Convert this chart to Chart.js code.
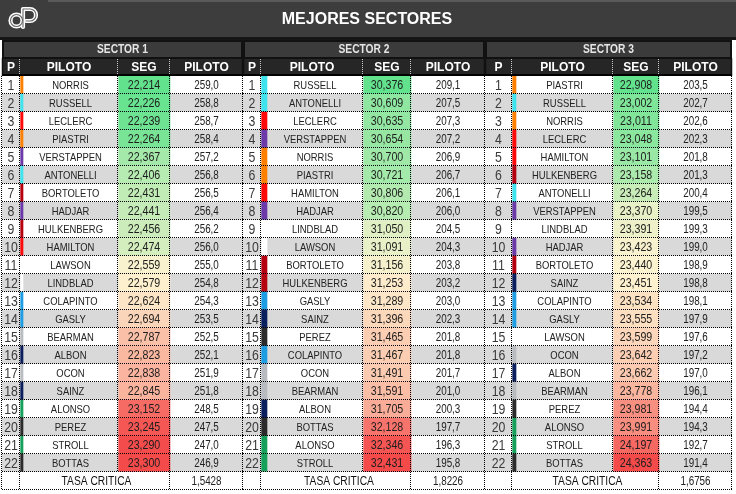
<!DOCTYPE html>
<html>
<head>
<meta charset="utf-8">
<script src="https://cdn.jsdelivr.net/npm/chart.js@4.4.1/dist/chart.umd.min.js"></script>
<style>
html,body{margin:0;padding:0;background:#ffffff;}
#wrap{width:736px;height:494px;overflow:hidden;}
canvas{display:block;}
</style>
</head>
<body>
<div id="wrap"><canvas id="c" width="736" height="494"></canvas></div>
<script>
// ---------- DATA ----------
const chartTitle = 'MEJORES SECTORES';
const sectorTitles = ['SECTOR 1', 'SECTOR 2', 'SECTOR 3'];
const columnHeaders = ['P', 'PILOTO', 'SEG', 'PILOTO'];
const criticalLabel = 'TASA CRITICA';
const positions = [1,2,3,4,5,6,7,8,9,10,11,12,13,14,15,16,17,18,19,20,21,22];

const s1Drivers = ['NORRIS','RUSSELL','LECLERC','PIASTRI','VERSTAPPEN','ANTONELLI','BORTOLETO','HADJAR','HULKENBERG','HAMILTON','LAWSON','LINDBLAD','COLAPINTO','GASLY','BEARMAN','ALBON','OCON','SAINZ','ALONSO','PEREZ','STROLL','BOTTAS'];
const s1Times = [22.214,22.226,22.239,22.264,22.367,22.406,22.431,22.441,22.456,22.474,22.559,22.579,22.624,22.694,22.787,22.823,22.838,22.845,23.152,23.245,23.290,23.300];
const s1Speeds = [259.0,258.8,258.7,258.4,257.2,256.8,256.5,256.4,256.2,256.0,255.0,254.8,254.3,253.5,252.5,252.1,251.9,251.8,248.5,247.5,247.0,246.9];

const s2Drivers = ['RUSSELL','ANTONELLI','LECLERC','VERSTAPPEN','NORRIS','PIASTRI','HAMILTON','HADJAR','LINDBLAD','LAWSON','BORTOLETO','HULKENBERG','GASLY','SAINZ','PEREZ','COLAPINTO','OCON','BEARMAN','ALBON','BOTTAS','ALONSO','STROLL'];
const s2Times = [30.376,30.609,30.635,30.654,30.700,30.721,30.806,30.820,31.050,31.091,31.156,31.253,31.289,31.396,31.465,31.467,31.491,31.591,31.705,32.128,32.346,32.431];
const s2Speeds = [209.1,207.5,207.3,207.2,206.9,206.7,206.1,206.0,204.5,204.3,203.8,203.2,203.0,202.3,201.8,201.8,201.7,201.0,200.3,197.7,196.3,195.8];

const s3Drivers = ['PIASTRI','RUSSELL','NORRIS','LECLERC','HAMILTON','HULKENBERG','ANTONELLI','VERSTAPPEN','LINDBLAD','HADJAR','BORTOLETO','SAINZ','COLAPINTO','GASLY','LAWSON','OCON','ALBON','BEARMAN','PEREZ','ALONSO','STROLL','BOTTAS'];
const s3Times = [22.908,23.002,23.011,23.048,23.101,23.158,23.264,23.370,23.391,23.423,23.440,23.451,23.534,23.555,23.599,23.642,23.662,23.778,23.981,23.991,24.197,24.363];
const s3Speeds = [203.5,202.7,202.6,202.3,201.8,201.3,200.4,199.5,199.3,199.0,198.9,198.8,198.1,197.9,197.6,197.2,197.0,196.1,194.4,194.3,192.7,191.4];

const criticalRates = [1.5428, 1.8226, 1.6756];

// ---------- STYLE / LAYOUT ----------
const teamColors = {
  NORRIS:'#ff8000', PIASTRI:'#ff8000',
  RUSSELL:'#3fe3ee', ANTONELLI:'#3fe3ee',
  LECLERC:'#ff0a0a', HAMILTON:'#ff0a0a',
  VERSTAPPEN:'#6b3aa8', HADJAR:'#6b3aa8',
  LAWSON:'#ffffff', LINDBLAD:'#ffffff',
  HULKENBERG:'#b5000f', BORTOLETO:'#b5000f',
  GASLY:'#1f9de2', COLAPINTO:'#1f9de2',
  SAINZ:'#0b1f5e', ALBON:'#0b1f5e',
  OCON:'#b8bcc0', BEARMAN:'#b8bcc0',
  ALONSO:'#16a05a', STROLL:'#16a05a',
  PEREZ:'#2b2b2b', BOTTAS:'#2b2b2b'
};
const colWidths = [[18,3,95,52,73],[18,6,96,48,74],[27,4,97,46,73]];
const SEG_MIN = [99,226,141], SEG_MID = [253,242,208], SEG_MAX = [244,74,74];

const drivers = [s1Drivers, s2Drivers, s3Drivers];
const times = [s1Times, s2Times, s3Times];
const speeds = [s1Speeds, s2Speeds, s3Speeds];

const rowLabels = ['sector','header'].concat(positions.map(String)).concat(['tasa']);
const NROW = rowLabels.length;
const totalW = colWidths.reduce((a, s) => a + s.reduce((x, y) => x + y, 0), 0);

// font detection
const mc = document.createElement('canvas').getContext('2d');
mc.font = '20px "Liberation Sans Narrow", monospace';
const wn = mc.measureText('NORRIS MWmi 22,214').width;
mc.font = '20px monospace';
const wm = mc.measureText('NORRIS MWmi 22,214').width;
const HAS_NARROW = Math.abs(wn - wm) > 0.5;

function fmt(v, d) { return v.toFixed(d).replace('.', ','); }

function median(arr) {
  const s = arr.slice().sort((a, b) => a - b);
  const n = s.length;
  return n % 2 ? s[(n - 1) / 2] : (s[n / 2 - 1] + s[n / 2]) / 2;
}
function mix(a, b, t) {
  return 'rgb(' + a.map((v, i) => Math.round(v + (b[i] - v) * t)).join(',') + ')';
}
function segColor(s, v) {
  const arr = times[s];
  const mn = Math.min(...arr), mx = Math.max(...arr), md = median(arr);
  if (v <= md) return mix(SEG_MID, SEG_MIN, (md - v) / (md - mn));
  return mix(SEG_MID, SEG_MAX, (v - md) / (mx - md));
}
function cellColor(s, c, r) {
  if (r === 0) return '#3b3b3b';
  if (r === 1) return '#262626';
  if (r === NROW - 1) return '#ffffff';
  const i = r - 2;
  if (c === 1) return teamColors[drivers[s][i]];
  if (c === 3) return segColor(s, times[s][i]);
  return i % 2 === 0 ? '#ffffff' : '#d9d9d9';
}

const datasets = [];
colWidths.forEach((ws, s) => {
  ws.forEach((w, c) => {
    datasets.push({
      data: rowLabels.map(() => w),
      backgroundColor: (ctx) => cellColor(s, c, ctx.dataIndex),
      borderWidth: 0,
      barPercentage: 1,
      categoryPercentage: 1,
      stack: 'table'
    });
  });
});

function txt(ctx, str, x, y, size, weight, color, narrow) {
  ctx.save();
  ctx.fillStyle = color;
  ctx.textAlign = 'center';
  ctx.textBaseline = 'middle';
  if (narrow && !HAS_NARROW) {
    ctx.font = weight + ' ' + size + 'px "Liberation Sans", Arial, sans-serif';
    ctx.translate(x, y);
    ctx.scale(0.82, 1);
    ctx.fillText(str, 0, 0);
  } else {
    ctx.font = weight + ' ' + size + 'px ' + (narrow ? '"Liberation Sans Narrow", "Arial Narrow", ' : '') + '"Liberation Sans", Arial, sans-serif';
    ctx.fillText(str, x, y);
  }
  ctx.restore();
}

function cellBox(chart, s, c, r) {
  const di = s * 5 + c;
  const el = chart.getDatasetMeta(di).data[r];
  const p = el.getProps(['x', 'y', 'base', 'height'], true);
  return { l: Math.min(p.x, p.base), r: Math.max(p.x, p.base), t: p.y - p.height / 2, b: p.y + p.height / 2, cy: p.y };
}

const backgroundPlugin = {
  id: 'bg',
  beforeDraw(chart) {
    const ctx = chart.ctx;
    const top = chart.chartArea.top;
    ctx.save();
    ctx.fillStyle = '#ffffff';
    ctx.fillRect(0, 0, chart.width, chart.height);
    ctx.fillStyle = '#3d3d3d';
    ctx.fillRect(0, 0, chart.width, top - 3);
    ctx.fillStyle = '#5a5a5a';
    ctx.fillRect(48, 0, chart.width - 48, 2);
    ctx.fillStyle = '#161616';
    ctx.fillRect(0, top - 3, chart.width, 3);
    // logo
    ctx.lineCap = 'round';
    ctx.lineJoin = 'round';
    const drawLogo = (w, col) => {
      ctx.strokeStyle = col; ctx.lineWidth = w;
      ctx.beginPath(); ctx.arc(16.5, 20.5, 6, 0, Math.PI * 2); ctx.stroke();
      ctx.beginPath();
      ctx.moveTo(23, 27); ctx.lineTo(23, 9); ctx.lineTo(30, 9);
      ctx.arc(30, 15, 6, -Math.PI / 2, Math.PI / 2);
      ctx.lineTo(26, 21);
      ctx.stroke();
    };
    drawLogo(4.2, '#ffffff');
    drawLogo(1.1, '#6a6a6a');
    ctx.restore();
  }
};

const tablePlugin = {
  id: 'table',
  afterDatasetsDraw(chart) {
    const ctx = chart.ctx;
    const area = chart.chartArea;
    ctx.save();
    for (let s = 0; s < 3; s++) {
      const B = [];
      for (let c = 0; c < 5; c++) B.push([]);
      for (let r = 0; r < NROW; r++) for (let c = 0; c < 5; c++) B[c][r] = cellBox(chart, s, c, r);
      const sL = B[0][0].l, sR = B[4][0].r;

      // ----- data rows lines (dotted) -----
      ctx.strokeStyle = '#000000';
      ctx.lineWidth = 1;
      ctx.setLineDash([1, 1]);
      for (let r = 2; r < NROW; r++) {
        const t = B[0][r].t, b = B[0][r].b;
        const xs = [sL, B[0][r].r, B[3][r].l, B[4][r].l, sR];
        xs.forEach((x, k) => {
          if (r === NROW - 1 && k === 2) return;
          ctx.beginPath();
          ctx.moveTo(Math.round(x) - 0.5, t);
          ctx.lineTo(Math.round(x) - 0.5, b);
          ctx.stroke();
        });
        ctx.beginPath();
        ctx.moveTo(sL, Math.round(b) - 0.5);
        ctx.lineTo(sR, Math.round(b) - 0.5);
        ctx.stroke();
      }
      // ----- header row dotted separators (light) -----
      ctx.strokeStyle = '#c8c8c8';
      [B[0][1].r, B[3][1].l, B[4][1].l].forEach((x) => {
        ctx.beginPath();
        ctx.moveTo(Math.round(x) - 0.5, B[0][1].t + 1);
        ctx.lineTo(Math.round(x) - 0.5, B[0][1].b - 2);
        ctx.stroke();
      });
      ctx.setLineDash([]);
      // sector header box
      ctx.strokeStyle = '#111111';
      ctx.lineWidth = 2;
      ctx.strokeRect(sL + 1, B[0][0].t + 1, sR - sL - 2, B[0][0].b - B[0][0].t - 1);
      // header row side borders
      ctx.beginPath();
      ctx.moveTo(sL + 0.5, B[0][1].t); ctx.lineTo(sL + 0.5, B[0][1].b);
      ctx.moveTo(sR - 0.5, B[0][1].t); ctx.lineTo(sR - 0.5, B[0][1].b);
      ctx.lineWidth = 1.5;
      ctx.stroke();

      // ----- texts -----
      txt(ctx, sectorTitles[s], (sL + sR) / 2, B[0][0].cy + 0.5, 12.5, 'bold', '#e6e6e6', true);
      const hy = B[0][1].cy + 0.5;
      txt(ctx, columnHeaders[0], (B[0][1].l + B[0][1].r) / 2, hy, 12, 'bold', '#ffffff', false);
      txt(ctx, columnHeaders[1], (B[1][1].l + B[2][1].r) / 2, hy, 12, 'bold', '#ffffff', false);
      txt(ctx, columnHeaders[2], (B[3][1].l + B[3][1].r) / 2, hy, 12, 'bold', '#ffffff', false);
      txt(ctx, columnHeaders[3], (B[4][1].l + B[4][1].r) / 2, hy, 12, 'bold', '#ffffff', false);

      for (let i = 0; i < positions.length; i++) {
        const r = i + 2;
        const y = B[0][r].cy + 0.5;
        txt(ctx, String(positions[i]), (B[0][r].l + B[0][r].r) / 2, y, 15, 'normal', '#3a3a3a', true);
        txt(ctx, drivers[s][i], (B[2][r].l + B[2][r].r) / 2, y, 11.5, 'normal', '#222222', true);
        txt(ctx, fmt(times[s][i], 3), (B[3][r].l + B[3][r].r) / 2, y, 13, 'normal', '#1e1e1e', true);
        txt(ctx, fmt(speeds[s][i], 1), (B[4][r].l + B[4][r].r) / 2, y, 12, 'normal', '#222222', true);
      }
      const tr = NROW - 1;
      const ty = B[0][tr].cy + 0.5;
      txt(ctx, criticalLabel, (B[2][tr].l + B[3][tr].r) / 2, ty, 12.5, 'normal', '#111111', true);
      txt(ctx, fmt(criticalRates[s], 4), (B[4][tr].l + B[4][tr].r) / 2, ty, 12, 'normal', '#222222', true);
    }
    // header bottom thick line
    const hb = cellBox(chart, 0, 0, 1).b;
    ctx.fillStyle = '#000000';
    ctx.fillRect(area.left, hb - 2, area.right - area.left, 2);
    ctx.restore();
  }
};

const tSize = HAS_NARROW ? 18 : 16;
const tPad = (40 - tSize * 1.2) / 2;

new Chart(document.getElementById('c'), {
  type: 'bar',
  data: { labels: rowLabels, datasets: datasets },
  options: {
    indexAxis: 'y',
    responsive: false,
    animation: false,
    events: [],
    devicePixelRatio: 1,
    layout: { padding: { left: 2, right: 736 - 2 - totalW, top: 0, bottom: 4 } },
    scales: {
      x: { type: 'linear', stacked: true, min: 0, max: totalW, display: false },
      y: { type: 'category', stacked: true, display: false }
    },
    plugins: {
      legend: { display: false },
      tooltip: { enabled: false },
      title: {
        display: true,
        text: chartTitle,
        color: '#ffffff',
        font: { family: HAS_NARROW ? '"Liberation Sans Narrow", "Arial Narrow", sans-serif' : '"Liberation Sans", Arial, sans-serif', size: tSize, weight: 'bold', lineHeight: 1.2 },
        padding: { top: tPad, bottom: tPad }
      }
    }
  },
  plugins: [backgroundPlugin, tablePlugin]
});
</script>
</body>
</html>
